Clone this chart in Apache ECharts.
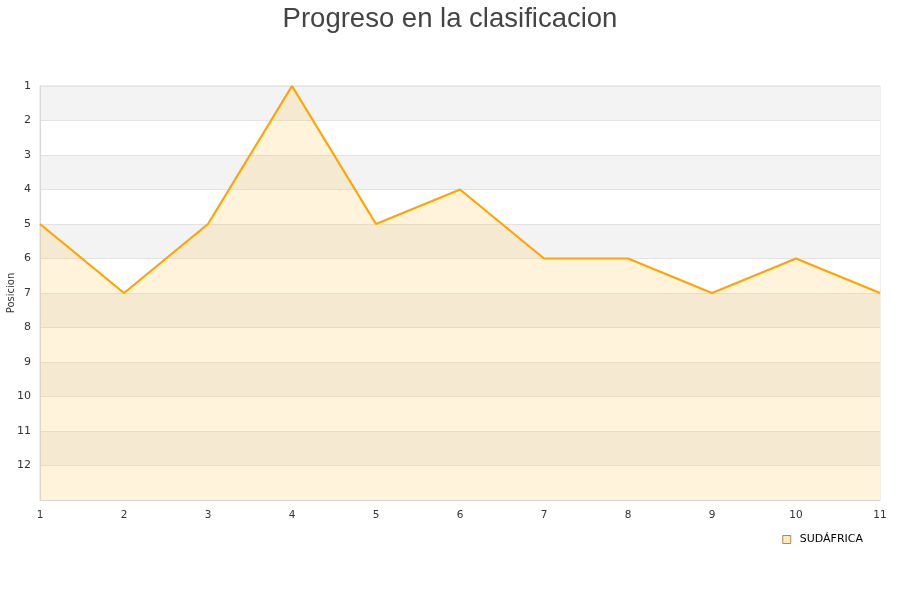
<!DOCTYPE html>
<html>
<head>
<meta charset="utf-8">
<script src="https://cdn.jsdelivr.net/npm/echarts@6/dist/echarts.min.js"></script>
<style>html,body{margin:0;padding:0;background:#fff}#c{width:900px;height:600px}</style>
</head>
<body>
<div id="c"></div>
<script>
const titleText = 'Progreso en la clasificacion';
const seriesName = 'SUDÁFRICA';
const jornadas = [1, 2, 3, 4, 5, 6, 7, 8, 9, 10, 11];
const posiciones = [5, 7, 5, 1, 5, 4, 6, 6, 7, 6, 7];
const yAxisName = 'Posicion';

const chart = echarts.init(document.getElementById('c'), null, {renderer: 'canvas'});
chart.setOption({
  animation: false,
  backgroundColor: '#fff',
  title: {
    text: titleText, left: 'center', top: 0,
    textStyle: {fontFamily: 'Liberation Sans', fontSize: 27.5, fontWeight: 'normal', color: '#444'}
  },
  legend: {
    right: 32, top: 529,
    itemWidth: 8, itemHeight: 8, itemGap: 10,
    icon: 'rect',
    textStyle: {fontFamily: 'DejaVu Sans', fontSize: 11, color: '#000', padding: [0, 0, 0, 4]},
    data: [{name: seriesName, itemStyle: {color: '#fde9c0', borderColor: '#b08a50', borderWidth: 1}}]
  },
  grid: {left: 40, right: 20, top: 86, bottom: 100, containLabel: false, outerBoundsMode: 'none',
    show: true, borderColor: '#dddddd', borderWidth: 1},
  xAxis: {
    type: 'value', min: 1, max: 11, interval: 1,
    axisLine: {show: true, lineStyle: {color: '#d8d8d8'}},
    axisTick: {show: false},
    splitLine: {show: false},
    axisLabel: {fontFamily: 'DejaVu Sans', fontSize: 10.5, color: '#333', margin: 10}
  },
  yAxis: {
    type: 'value', min: 1, max: 13, interval: 1, inverse: true,
    name: yAxisName, nameLocation: 'middle', nameGap: 24, nameMoveOverlap: false,
    nameTextStyle: {fontFamily: 'DejaVu Sans', fontSize: 10, color: '#333'},
    axisLine: {show: true, lineStyle: {color: '#d8d8d8'}},
    axisTick: {show: false},
    splitLine: {show: true, lineStyle: {color: '#e2e2e2'}},
    splitArea: {show: true, areaStyle: {color: ['#f3f3f3', '#ffffff']}},
    axisLabel: {
      fontFamily: 'DejaVu Sans', fontSize: 11, color: '#333', margin: 9,
      formatter: v => (v >= 13 ? '' : String(v))
    }
  },
  series: [{
    name: seriesName,
    type: 'line',
    data: jornadas.map((j, i) => [j, posiciones[i]]),
    showSymbol: false,
    symbol: 'none',
    lineStyle: {color: '#ffa500', width: 2.2},
    itemStyle: {color: '#ffa500'},
    areaStyle: {origin: 'end', color: 'rgba(255,201,102,0.33)'}
  }]
});
</script>
</body>
</html>
